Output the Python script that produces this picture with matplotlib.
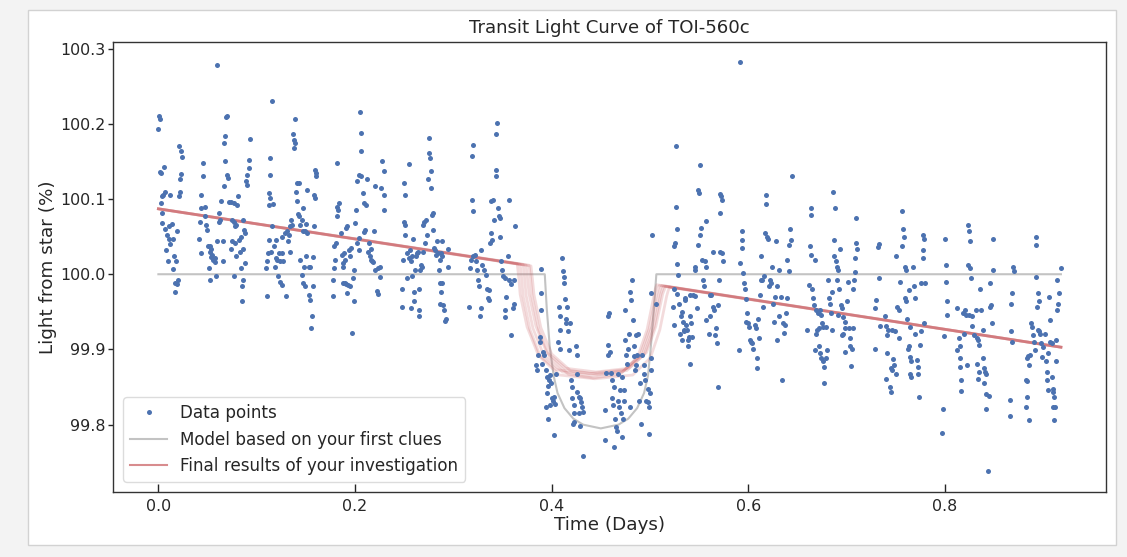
"""
Transit light curve of TOI-560c: observed points, first-guess model and
the ensemble of fitted models.
"""
import numpy as np
import matplotlib
matplotlib.use("Agg")  # no display
import matplotlib.pyplot as plt
from matplotlib.lines import Line2D
from matplotlib.patches import Rectangle

# ---------------------------------------------------------------------------
# Observed points (time in days, light from star in %), read off the chart,
# grouped by stretch of time.
# ---------------------------------------------------------------------------
points_000_025 = [
    (0.001, 100.211), (0.002, 100.207), (0.000, 100.193), (0.002, 100.136), (0.003, 100.134),
    (0.006, 100.142), (0.003, 100.095), (0.004, 100.104), (0.005, 100.105), (0.007, 100.110),
    (0.004, 100.081), (0.004, 100.068), (0.007, 100.060), (0.009, 100.052), (0.008, 100.032),
    (0.010, 100.017), (0.012, 100.105), (0.011, 100.064), (0.014, 100.067), (0.011, 100.047),
    (0.012, 100.040), (0.015, 100.047), (0.015, 100.007), (0.016, 100.024), (0.018, 100.017),
    (0.017, 99.988), (0.019, 99.987), (0.020, 99.993), (0.017, 99.977), (0.019, 100.058),
    (0.021, 100.170), (0.023, 100.164), (0.024, 100.156), (0.023, 100.133), (0.022, 100.127),
    (0.022, 100.110), (0.021, 100.104),
]
points_040_095 = [
    (0.041, 100.047), (0.043, 100.028), (0.042, 100.070), (0.043, 100.106), (0.045, 100.130),
    (0.045, 100.148), (0.043, 100.088), (0.047, 100.090), (0.047, 100.077), (0.048, 100.066),
    (0.049, 100.059), (0.052, 99.992), (0.051, 100.008), (0.050, 100.038), (0.053, 100.037),
    (0.054, 100.033), (0.052, 100.029), (0.054, 100.023), (0.055, 100.026), (0.056, 100.019),
    (0.058, 100.021), (0.058, 100.016), (0.059, 99.998), (0.060, 100.044), (0.060, 100.278),
    (0.062, 100.070), (0.062, 100.081), (0.064, 100.097), (0.066, 100.017), (0.066, 100.044),
    (0.063, 100.072), (0.067, 100.117), (0.068, 100.150), (0.069, 100.209), (0.070, 100.210),
    (0.068, 100.184), (0.067, 100.175), (0.070, 100.132), (0.071, 100.128), (0.072, 100.096),
    (0.074, 100.096), (0.077, 100.095), (0.080, 100.092), (0.075, 100.072), (0.077, 100.070),
    (0.078, 100.064), (0.079, 100.066), (0.078, 100.041), (0.075, 100.044), (0.074, 100.033),
    (0.079, 100.024), (0.077, 99.997), (0.081, 100.104), (0.082, 100.046), (0.084, 100.050),
    (0.083, 100.030), (0.086, 100.034), (0.086, 100.072), (0.087, 100.059), (0.088, 100.055),
    (0.084, 100.008), (0.086, 99.992), (0.085, 99.984), (0.085, 99.964), (0.088, 100.015),
    (0.089, 100.124), (0.090, 100.119), (0.090, 100.132), (0.092, 100.141), (0.092, 100.152),
    (0.093, 100.180),
]
points_108_160 = [
    (0.116, 100.230), (0.114, 100.155), (0.114, 100.132), (0.113, 100.108), (0.114, 100.101),
    (0.112, 100.092), (0.117, 100.093), (0.112, 100.046), (0.111, 100.028), (0.110, 100.018),
    (0.109, 100.008), (0.110, 99.971), (0.116, 100.064), (0.115, 100.030), (0.118, 100.037),
    (0.120, 100.021), (0.120, 100.046), (0.121, 100.019), (0.119, 100.010), (0.123, 100.028),
    (0.124, 100.018), (0.122, 99.998), (0.124, 99.990), (0.126, 100.028), (0.127, 100.018),
    (0.126, 99.986), (0.126, 100.050), (0.129, 100.055), (0.130, 99.971), (0.131, 100.057),
    (0.133, 100.052), (0.132, 100.044), (0.134, 100.064), (0.135, 100.072), (0.136, 100.066),
    (0.134, 100.030), (0.137, 100.186), (0.138, 100.179), (0.139, 100.174), (0.138, 100.168),
    (0.139, 100.206), (0.141, 100.121), (0.143, 100.121), (0.140, 100.110), (0.141, 100.097),
    (0.142, 100.080), (0.143, 100.077), (0.144, 100.066), (0.146, 100.072), (0.147, 100.057),
    (0.149, 100.057), (0.150, 100.067), (0.151, 100.055), (0.147, 100.088), (0.151, 100.112),
    (0.144, 100.019), (0.146, 99.999), (0.147, 99.988), (0.149, 99.984), (0.148, 100.010),
    (0.150, 100.024), (0.153, 100.010), (0.154, 100.010), (0.157, 100.023), (0.158, 100.064),
    (0.157, 99.984), (0.153, 99.972), (0.154, 99.966), (0.156, 99.944), (0.155, 99.928),
    (0.159, 100.139), (0.160, 100.135), (0.160, 100.130), (0.158, 100.106), (0.159, 100.101),
]
points_178_230 = [
    (0.179, 100.037), (0.180, 100.019), (0.179, 100.008), (0.178, 99.992), (0.178, 99.971),
    (0.182, 100.148), (0.182, 100.090), (0.184, 100.095), (0.182, 100.077), (0.183, 100.086),
    (0.181, 100.041), (0.186, 100.055), (0.187, 100.026), (0.188, 100.015), (0.189, 100.028),
    (0.190, 100.019), (0.188, 100.010), (0.191, 100.061), (0.192, 100.064), (0.188, 99.989),
    (0.190, 99.988), (0.191, 99.987), (0.193, 99.986), (0.195, 99.984), (0.192, 99.975),
    (0.194, 100.032), (0.195, 100.024), (0.196, 100.035), (0.198, 99.995), (0.199, 100.006),
    (0.200, 100.068), (0.201, 100.086), (0.199, 99.964), (0.197, 99.922), (0.202, 100.041),
    (0.204, 100.048), (0.204, 100.032), (0.202, 100.124), (0.204, 100.132), (0.206, 100.130),
    (0.206, 100.164), (0.206, 100.188), (0.205, 100.216), (0.208, 100.108), (0.209, 100.095),
    (0.211, 100.092), (0.212, 100.126), (0.209, 100.056), (0.210, 100.059), (0.213, 100.030),
    (0.216, 100.033), (0.215, 100.024), (0.216, 100.019), (0.217, 100.017), (0.218, 100.016),
    (0.214, 100.041), (0.219, 100.058), (0.220, 100.117), (0.220, 100.006), (0.223, 100.008),
    (0.225, 99.996), (0.222, 99.978), (0.223, 99.974), (0.225, 100.010), (0.226, 100.115),
    (0.227, 100.150), (0.229, 100.137), (0.229, 100.106), (0.229, 100.085),
]
points_245_295 = [
    (0.248, 99.981), (0.248, 99.957), (0.250, 100.121), (0.251, 100.106), (0.250, 100.070),
    (0.251, 100.066), (0.251, 100.052), (0.249, 100.019), (0.253, 100.028), (0.253, 99.995),
    (0.255, 100.147), (0.255, 100.021), (0.256, 100.032), (0.257, 100.017), (0.258, 100.024),
    (0.258, 99.997), (0.259, 100.047), (0.260, 99.977), (0.260, 99.964), (0.257, 99.955),
    (0.261, 100.006), (0.262, 100.024), (0.263, 100.028), (0.264, 100.030), (0.265, 99.981),
    (0.265, 99.952), (0.265, 99.944), (0.266, 100.006), (0.267, 100.012), (0.268, 100.010),
    (0.269, 100.030), (0.269, 100.066), (0.270, 100.070), (0.271, 100.041), (0.272, 100.072),
    (0.273, 100.052), (0.274, 100.126), (0.275, 100.181), (0.275, 100.161), (0.276, 100.155),
    (0.277, 100.137), (0.277, 100.115), (0.278, 100.079), (0.279, 100.081), (0.279, 100.059),
    (0.280, 100.035), (0.281, 100.032), (0.282, 100.026), (0.283, 100.044), (0.284, 100.028),
    (0.285, 100.006), (0.286, 100.019), (0.287, 100.028), (0.288, 100.024), (0.288, 100.044),
    (0.286, 99.988), (0.288, 99.988), (0.287, 99.977), (0.286, 99.961), (0.289, 99.959),
    (0.290, 99.952), (0.293, 99.941), (0.292, 99.938), (0.295, 100.033), (0.295, 100.010),
]
points_315_365 = [
    (0.316, 99.957), (0.317, 100.008), (0.318, 100.019), (0.319, 100.099), (0.320, 100.084),
    (0.319, 100.157), (0.320, 100.172), (0.320, 100.024), (0.322, 100.026), (0.323, 100.017),
    (0.324, 100.006), (0.325, 99.992), (0.326, 99.984), (0.327, 99.944), (0.328, 99.955),
    (0.328, 100.032), (0.329, 100.012), (0.331, 100.006), (0.333, 99.999), (0.334, 99.981),
    (0.335, 99.968), (0.336, 99.979), (0.336, 99.966), (0.337, 100.041), (0.338, 100.055),
    (0.339, 100.046), (0.338, 100.097), (0.340, 100.099), (0.341, 100.072), (0.343, 100.130),
    (0.343, 100.139), (0.343, 100.186), (0.344, 100.201), (0.345, 100.088), (0.346, 100.077),
    (0.347, 100.075), (0.347, 100.050), (0.348, 100.017), (0.350, 100.006), (0.351, 99.997),
    (0.353, 99.995), (0.354, 99.970), (0.353, 99.952), (0.353, 99.943), (0.356, 100.024),
    (0.357, 100.099), (0.357, 99.992), (0.359, 99.987), (0.359, 99.919), (0.361, 99.955),
    (0.362, 99.961), (0.363, 100.064), (0.362, 99.993),
]
points_384_432 = [
    (0.389, 100.007), (0.389, 99.975), (0.389, 99.952), (0.388, 99.917), (0.388, 99.910),
    (0.386, 99.892), (0.384, 99.879), (0.385, 99.872), (0.391, 99.897), (0.392, 99.892),
    (0.390, 99.881), (0.394, 99.872), (0.395, 99.864), (0.397, 99.859), (0.398, 99.866),
    (0.399, 99.855), (0.396, 99.851), (0.395, 99.842), (0.400, 99.835), (0.401, 99.832),
    (0.402, 99.837), (0.403, 99.828), (0.398, 99.826), (0.394, 99.824), (0.396, 99.808),
    (0.402, 99.786), (0.404, 99.868), (0.407, 99.957), (0.408, 99.944), (0.409, 99.926),
    (0.406, 99.910), (0.409, 99.901), (0.411, 100.021), (0.412, 100.004), (0.413, 99.996),
    (0.413, 99.988), (0.414, 99.967), (0.415, 99.941), (0.415, 99.935), (0.416, 99.957),
    (0.417, 99.924), (0.418, 99.899), (0.419, 99.935), (0.420, 99.859), (0.421, 99.850),
    (0.421, 99.835), (0.423, 99.826), (0.425, 99.904), (0.426, 99.892), (0.426, 99.868),
    (0.426, 99.844), (0.428, 99.837), (0.429, 99.835), (0.430, 99.830), (0.431, 99.824),
    (0.428, 99.815), (0.432, 99.817), (0.423, 99.815), (0.423, 99.804), (0.422, 99.801),
    (0.429, 99.798), (0.432, 99.758),
]
points_454_506 = [
    (0.454, 99.819), (0.454, 99.780), (0.455, 99.869), (0.457, 99.906), (0.457, 99.944),
    (0.458, 99.948), (0.457, 99.892), (0.459, 99.897), (0.460, 99.869), (0.461, 99.859),
    (0.461, 99.835), (0.462, 99.826), (0.463, 99.850), (0.464, 99.807), (0.465, 99.797),
    (0.466, 99.792), (0.463, 99.770), (0.467, 99.832), (0.468, 99.868), (0.469, 99.824),
    (0.470, 99.846), (0.471, 99.815), (0.472, 99.864), (0.473, 99.808), (0.472, 99.784),
    (0.474, 99.846), (0.474, 99.832), (0.475, 99.952), (0.475, 99.912), (0.476, 99.892),
    (0.477, 99.881), (0.478, 99.901), (0.479, 99.921), (0.480, 99.824), (0.480, 99.977),
    (0.481, 99.966), (0.482, 99.992), (0.483, 99.939), (0.484, 99.891), (0.484, 99.904),
    (0.485, 99.872), (0.486, 99.919), (0.486, 99.879), (0.487, 99.892), (0.488, 99.921),
    (0.489, 99.832), (0.490, 99.855), (0.491, 99.801), (0.492, 99.892), (0.494, 99.879),
    (0.494, 99.868), (0.495, 99.859), (0.496, 99.832), (0.498, 99.830), (0.498, 99.848),
    (0.499, 99.824), (0.499, 99.788), (0.500, 99.842), (0.501, 99.872), (0.501, 99.888),
    (0.501, 99.975), (0.502, 100.052), (0.506, 99.961),
]
points_523_574 = [
    (0.526, 100.170), (0.526, 100.090), (0.527, 100.060), (0.525, 100.041), (0.524, 100.038),
    (0.528, 100.014), (0.529, 99.999), (0.524, 99.981), (0.523, 99.957), (0.524, 99.932),
    (0.528, 99.974), (0.530, 99.960), (0.532, 99.944), (0.533, 99.950), (0.534, 99.937),
    (0.536, 99.966), (0.535, 99.926), (0.536, 99.968), (0.537, 99.932), (0.531, 99.921),
    (0.533, 99.913), (0.535, 99.924), (0.538, 99.926), (0.539, 99.912), (0.540, 99.917),
    (0.539, 99.904), (0.541, 99.881), (0.541, 99.944), (0.542, 99.935), (0.543, 99.917),
    (0.541, 99.972), (0.544, 99.972), (0.546, 99.971), (0.546, 100.006), (0.546, 100.010),
    (0.548, 99.955), (0.549, 100.039), (0.550, 100.108), (0.549, 100.112), (0.551, 100.145),
    (0.551, 100.052), (0.552, 100.062), (0.553, 100.019), (0.554, 99.992), (0.555, 99.984),
    (0.556, 100.017), (0.557, 100.010), (0.557, 100.071), (0.557, 99.939), (0.560, 99.921),
    (0.561, 99.972), (0.562, 99.972), (0.561, 99.944), (0.564, 100.029), (0.564, 99.957),
    (0.565, 99.952), (0.566, 99.919), (0.567, 99.929), (0.568, 99.908), (0.569, 99.850),
    (0.569, 99.959), (0.570, 99.992), (0.571, 100.107), (0.572, 100.104), (0.573, 100.099),
    (0.571, 100.081), (0.571, 100.030), (0.573, 100.028), (0.574, 100.017),
]
points_591_644 = [
    (0.591, 99.899), (0.592, 100.282), (0.592, 100.015), (0.594, 100.057), (0.594, 100.045),
    (0.594, 100.035), (0.595, 100.001), (0.596, 99.989), (0.597, 99.981), (0.598, 99.967),
    (0.599, 99.948), (0.598, 99.937), (0.600, 99.935), (0.601, 99.930), (0.602, 99.912),
    (0.603, 99.910), (0.604, 99.908), (0.605, 99.901), (0.607, 99.932), (0.608, 99.928),
    (0.609, 99.888), (0.609, 99.875), (0.610, 99.941), (0.611, 99.915), (0.612, 99.972),
    (0.613, 99.992), (0.613, 100.024), (0.614, 99.993), (0.615, 99.957), (0.616, 99.997),
    (0.617, 100.055), (0.618, 100.106), (0.618, 100.094), (0.619, 100.050), (0.620, 100.047),
    (0.621, 99.984), (0.622, 99.992), (0.623, 99.988), (0.624, 100.010), (0.625, 99.961),
    (0.626, 99.937), (0.627, 99.970), (0.628, 100.044), (0.629, 99.984), (0.629, 99.912),
    (0.631, 100.006), (0.631, 99.944), (0.633, 99.970), (0.634, 99.859), (0.635, 99.935),
    (0.636, 99.922), (0.637, 99.932), (0.638, 99.948), (0.639, 99.968), (0.639, 100.019),
    (0.641, 100.039), (0.641, 100.004), (0.642, 100.060), (0.643, 100.046), (0.644, 100.130),
]
points_660_711 = [
    (0.660, 99.926), (0.662, 99.986), (0.664, 100.088), (0.664, 100.079), (0.663, 100.038),
    (0.664, 100.026), (0.668, 100.019), (0.665, 99.980), (0.666, 99.968), (0.667, 99.959),
    (0.669, 99.953), (0.671, 99.948), (0.673, 99.952), (0.674, 99.946), (0.675, 99.935),
    (0.670, 99.926), (0.669, 99.921), (0.672, 99.928), (0.676, 99.930), (0.679, 99.930),
    (0.668, 99.899), (0.672, 99.904), (0.673, 99.895), (0.674, 99.888), (0.676, 99.884),
    (0.677, 99.877), (0.680, 99.899), (0.679, 99.888), (0.677, 99.855), (0.681, 99.993),
    (0.682, 99.968), (0.683, 99.961), (0.684, 99.948), (0.685, 99.926), (0.685, 99.977),
    (0.686, 100.109), (0.688, 100.088), (0.687, 100.046), (0.687, 100.024), (0.689, 100.017),
    (0.690, 100.010), (0.691, 100.006), (0.690, 99.993), (0.692, 99.981), (0.693, 100.033),
    (0.691, 99.946), (0.694, 99.959), (0.695, 99.955), (0.696, 99.943), (0.698, 99.937),
    (0.698, 99.929), (0.696, 99.921), (0.695, 99.919), (0.698, 99.896), (0.700, 99.964),
    (0.701, 99.990), (0.702, 99.928), (0.703, 99.915), (0.703, 99.904), (0.705, 99.901),
    (0.704, 99.878), (0.707, 99.928), (0.707, 99.981), (0.708, 99.993), (0.709, 100.003),
    (0.709, 100.021), (0.710, 100.041), (0.711, 100.033), (0.710, 100.075),
]
points_729_780 = [
    (0.729, 99.900), (0.729, 99.955), (0.730, 99.966), (0.732, 100.036), (0.733, 100.040),
    (0.733, 99.995), (0.734, 99.931), (0.739, 99.944), (0.740, 99.931), (0.741, 99.919),
    (0.742, 99.926), (0.741, 99.895), (0.740, 99.861), (0.744, 99.850), (0.745, 99.844),
    (0.745, 99.875), (0.746, 99.873), (0.747, 99.887), (0.748, 99.879), (0.750, 99.868),
    (0.746, 99.926), (0.749, 99.924), (0.753, 99.915), (0.750, 100.024), (0.751, 99.957),
    (0.753, 99.952), (0.754, 99.990), (0.756, 100.084), (0.757, 100.060), (0.758, 100.049),
    (0.756, 100.038), (0.759, 100.010), (0.760, 100.006), (0.759, 99.969), (0.760, 99.964),
    (0.761, 99.941), (0.763, 99.979), (0.762, 99.900), (0.763, 99.904), (0.764, 99.930),
    (0.765, 99.890), (0.766, 99.884), (0.765, 99.868), (0.766, 99.864), (0.768, 100.010),
    (0.769, 99.984), (0.770, 99.968), (0.770, 99.921), (0.772, 99.886), (0.773, 99.877),
    (0.773, 99.868), (0.774, 99.837), (0.775, 99.906), (0.776, 99.924), (0.776, 99.988),
    (0.778, 100.052), (0.779, 100.047), (0.778, 100.032), (0.778, 100.021), (0.780, 99.988),
    (0.779, 99.935),
]
points_797_849 = [
    (0.797, 99.789), (0.798, 99.821), (0.799, 99.918), (0.800, 100.047), (0.801, 100.012),
    (0.801, 99.990), (0.802, 99.964), (0.802, 99.946), (0.812, 99.955), (0.814, 99.915),
    (0.815, 99.904), (0.812, 99.899), (0.815, 99.888), (0.815, 99.877), (0.816, 99.859),
    (0.816, 99.845), (0.818, 99.948), (0.819, 99.921), (0.820, 99.953), (0.821, 99.946),
    (0.822, 99.879), (0.824, 100.066), (0.825, 100.057), (0.826, 100.044), (0.824, 100.012),
    (0.826, 100.008), (0.827, 99.995), (0.825, 99.946), (0.828, 99.944), (0.828, 99.931),
    (0.830, 99.919), (0.832, 99.953), (0.833, 99.915), (0.834, 99.912), (0.835, 99.906),
    (0.833, 99.880), (0.835, 99.870), (0.834, 99.861), (0.836, 99.981), (0.837, 99.952),
    (0.839, 99.926), (0.839, 99.888), (0.840, 99.875), (0.841, 99.870), (0.842, 99.868),
    (0.840, 99.855), (0.842, 99.841), (0.845, 99.838), (0.842, 99.821), (0.844, 99.738),
    (0.846, 99.957), (0.847, 99.959), (0.846, 99.989), (0.848, 99.935), (0.849, 100.047),
    (0.849, 100.005),
]
points_866_918 = [
    (0.866, 99.833), (0.866, 99.812), (0.867, 99.960), (0.867, 99.924), (0.868, 99.910),
    (0.868, 99.975), (0.869, 100.010), (0.870, 100.004), (0.882, 99.824), (0.882, 99.859),
    (0.883, 99.888), (0.884, 99.858), (0.884, 99.837), (0.885, 99.891), (0.886, 99.806),
    (0.886, 99.879), (0.887, 99.892), (0.888, 99.935), (0.889, 99.930), (0.890, 99.919),
    (0.891, 99.910), (0.892, 99.899), (0.893, 100.050), (0.893, 100.039), (0.893, 99.996),
    (0.894, 99.957), (0.895, 99.975), (0.896, 99.964), (0.895, 99.926), (0.896, 99.924),
    (0.897, 99.921), (0.898, 99.908), (0.899, 99.890), (0.900, 99.903), (0.902, 99.921),
    (0.903, 99.884), (0.904, 99.870), (0.904, 99.859), (0.905, 99.846), (0.905, 99.895),
    (0.906, 99.970), (0.907, 99.939), (0.907, 99.910), (0.909, 99.908), (0.909, 99.864),
    (0.910, 99.848), (0.910, 99.844), (0.911, 99.837), (0.910, 99.824), (0.912, 99.824),
    (0.911, 99.806), (0.913, 99.884), (0.913, 99.912), (0.914, 99.952), (0.915, 99.961),
    (0.916, 99.975), (0.914, 99.993), (0.918, 100.008),
]

# ---------------------------------------------------------------------------
# Model based on the first clues (grey curve)
# ---------------------------------------------------------------------------
first_model_time = [0.000, 0.393, 0.395, 0.398, 0.402, 0.406, 0.413, 0.422, 0.432, 0.450,
                    0.468, 0.478, 0.487, 0.494, 0.498, 0.501, 0.504, 0.5065, 0.918]
first_model_flux = [100.000, 100.000, 99.955, 99.905, 99.865, 99.842, 99.822, 99.808, 99.800, 99.795,
                    99.800, 99.808, 99.822, 99.842, 99.865, 99.905, 99.955, 100.000, 100.000]

# ---------------------------------------------------------------------------
# Final results: ensemble of fitted curves (red, drawn faint and stacked)
# ---------------------------------------------------------------------------
final_curves = [
    ([0.000, 0.365, 0.3665, 0.368, 0.375, 0.386, 0.405, 0.4385, 0.4745, 0.4925, 0.502, 0.509, 0.5105, 0.512, 0.918],
     [100.087, 100.014, 99.996, 99.973, 99.930, 99.894, 99.873, 99.868, 99.873, 99.894, 99.930, 99.973, 99.980, 99.985, 99.903]),
    ([0.000, 0.368, 0.3695, 0.371, 0.378, 0.389, 0.408, 0.444, 0.4825, 0.5005, 0.510, 0.517, 0.5185, 0.520, 0.918],
     [100.087, 100.013, 99.995, 99.971, 99.926, 99.889, 99.866, 99.861, 99.866, 99.889, 99.926, 99.971, 99.978, 99.983, 99.903]),
    ([0.000, 0.371, 0.3725, 0.374, 0.381, 0.392, 0.411, 0.440, 0.472, 0.490, 0.4995, 0.5065, 0.508, 0.5095, 0.918],
     [100.087, 100.013, 99.995, 99.972, 99.928, 99.892, 99.870, 99.865, 99.870, 99.892, 99.928, 99.972, 99.980, 99.985, 99.903]),
    ([0.000, 0.374, 0.3755, 0.377, 0.384, 0.395, 0.414, 0.445, 0.4785, 0.4965, 0.506, 0.513, 0.5145, 0.516, 0.918],
     [100.087, 100.012, 99.994, 99.974, 99.931, 99.896, 99.875, 99.870, 99.875, 99.896, 99.931, 99.974, 99.979, 99.984, 99.903]),
    ([0.000, 0.377, 0.3785, 0.380, 0.387, 0.398, 0.417, 0.442, 0.4695, 0.4875, 0.497, 0.504, 0.5055, 0.507, 0.918],
     [100.087, 100.012, 99.994, 99.971, 99.926, 99.890, 99.867, 99.862, 99.867, 99.890, 99.926, 99.971, 99.981, 99.986, 99.903]),
    ([0.000, 0.379, 0.3805, 0.382, 0.389, 0.400, 0.419, 0.4465, 0.4765, 0.4945, 0.504, 0.511, 0.5125, 0.514, 0.918],
     [100.087, 100.011, 99.993, 99.973, 99.929, 99.894, 99.872, 99.867, 99.872, 99.894, 99.929, 99.973, 99.979, 99.984, 99.903]),
]

POINT_COLOR = "#4C72B0"
MODEL_COLOR = "#c3c3c3"
FINAL_COLOR = "#C44E52"
TEXT_COLOR = "#262626"

segments = [
    points_000_025, points_040_095, points_108_160, points_178_230, points_245_295,
    points_315_365, points_384_432, points_454_506, points_523_574, points_591_644,
    points_660_711, points_729_780, points_797_849, points_866_918,
]
data = np.array([p for seg in segments for p in seg])
time_days = data[:, 0]
light_pct = data[:, 1]

plt.rcParams["font.family"] = ["DejaVu Sans"]
plt.rcParams["font.size"] = 11.4
plt.rcParams["text.color"] = TEXT_COLOR
plt.rcParams["axes.labelcolor"] = TEXT_COLOR
plt.rcParams["xtick.color"] = TEXT_COLOR
plt.rcParams["ytick.color"] = TEXT_COLOR

W, H = 1127, 557
fig = plt.figure(figsize=(W / 100, H / 100), dpi=100, facecolor="#f3f3f3")
# white notebook-style card behind the plot
fig.patches.append(Rectangle((28 / W, 12 / H), 1088 / W, 535 / H, transform=fig.transFigure,
                             facecolor="white", edgecolor="#d2d2d2", linewidth=1, zorder=-10))

ax = fig.add_axes([0.1005, 0.1172, 0.8809, 0.8079])

ax.plot(first_model_time, first_model_flux, color=MODEL_COLOR, linewidth=1.5, zorder=1)
for t, f in final_curves:
    ax.plot(t, f, color=FINAL_COLOR, alpha=0.2, linewidth=2, zorder=2)
ax.plot(time_days, light_pct, linestyle="none", marker="o", markersize=3.6,
        markeredgewidth=0, color=POINT_COLOR, zorder=3)

ax.set_title("Transit Light Curve of TOI-560c", fontsize=13.1, pad=6)
ax.set_xlabel("Time (Days)", fontsize=13.2, labelpad=2)
ax.set_ylabel("Light from star (%)", fontsize=13.2, labelpad=2)

ax.set_xticks([0.0, 0.2, 0.4, 0.6, 0.8])
ax.set_yticks([99.8, 99.9, 100.0, 100.1, 100.2, 100.3])
ax.ticklabel_format(axis="y", useOffset=False)
ax.tick_params(axis="x", direction="in", length=5.5, width=1, pad=5)
ax.tick_params(axis="y", direction="out", length=3.5, width=1, pad=2)
for spine in ax.spines.values():
    spine.set_color("#333333")
    spine.set_linewidth(1)

handles = [
    Line2D([], [], linestyle="none", marker="o", markersize=3.6, markeredgewidth=0, color=POINT_COLOR),
    Line2D([], [], color=MODEL_COLOR, linewidth=1.5),
    Line2D([], [], color=FINAL_COLOR, alpha=0.65, linewidth=1.5),
]
labels = ["Data points", "Model based on your first clues", "Final results of your investigation"]
leg = ax.legend(handles, labels, loc="lower left", fontsize=12.1, borderaxespad=0.6,
                handlelength=2.2, fancybox=True, framealpha=1, edgecolor="#dcdcdc")

fig.savefig("out.png", dpi=100, facecolor=fig.get_facecolor())
print("[OK] Saved plot -> out.png")
